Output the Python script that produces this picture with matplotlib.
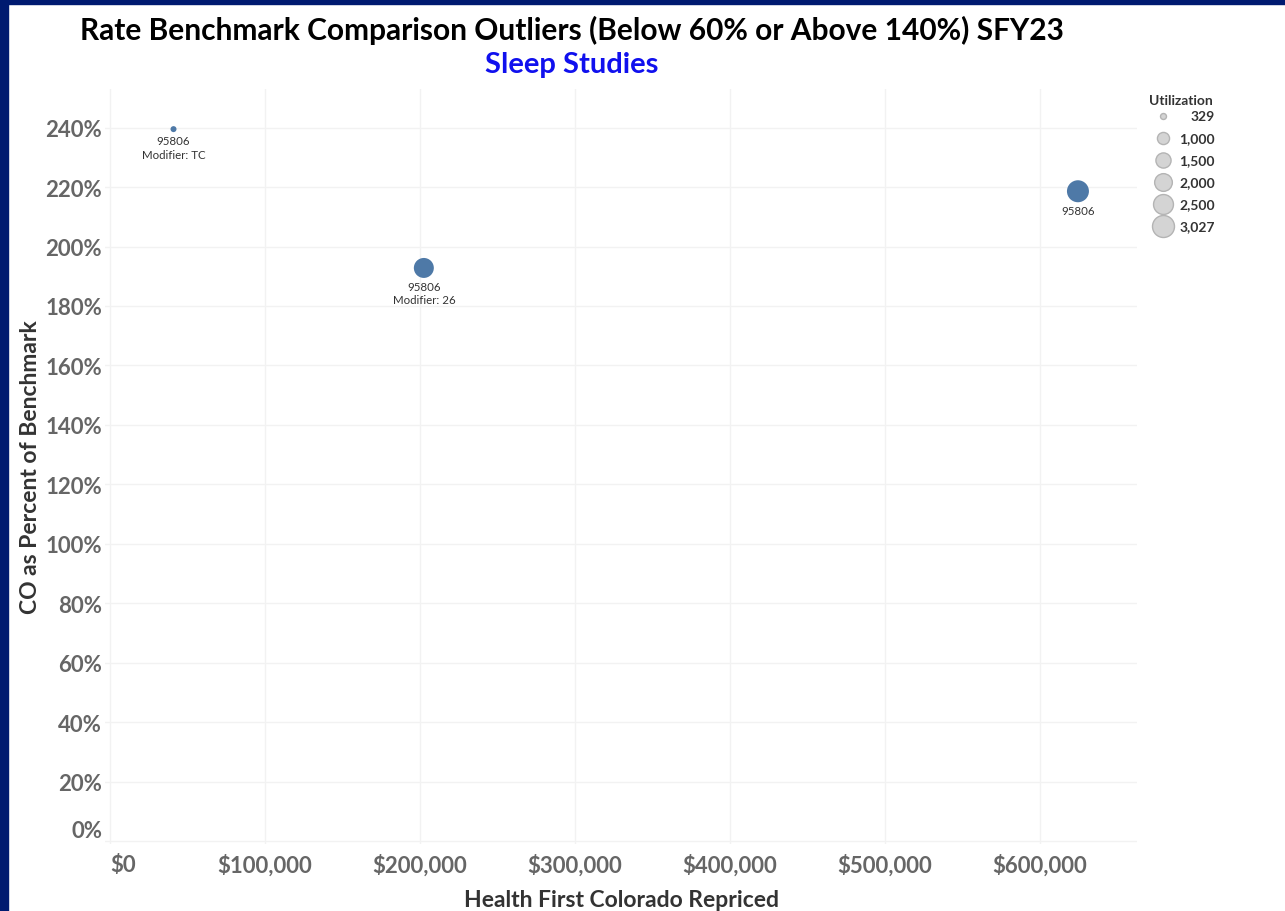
import matplotlib
matplotlib.use("Agg")
import matplotlib.pyplot as plt
from matplotlib.patches import Rectangle
from matplotlib.ticker import FuncFormatter, MultipleLocator

plt.rcParams['font.family'] = ['Lato', 'DejaVu Sans']

# data
codes = ["95806", "95806", "95806"]
modifiers = ["TC", "26", ""]
repriced = [41000, 202500, 624500]
pct_benchmark = [239.5, 192.8, 218.6]
utilization = [329, 2520, 3027]

legend_values = [329, 1000, 1500, 2000, 2500, 3027]
legend_labels = ["329", "1,000", "1,500", "2,000", "2,500", "3,027"]


def size_of(v):
    # area grows linearly with utilization (tableau style), converted to pt^2
    d2 = 36 + 0.166 * (v - 329)
    return 0.518 * d2


W, H = 1285, 912
fig = plt.figure(figsize=(W / 100, H / 100), dpi=100)
fig.patch.set_facecolor("white")

# navy frame on left and top
fig.patches.append(Rectangle((0, 0), 8 / W, 1, transform=fig.transFigure,
                             color="#001a70", zorder=10))
fig.patches.append(Rectangle((0, 1 - 5 / H), 1, 5 / H, transform=fig.transFigure,
                             color="#001a70", zorder=10))

ax = fig.add_axes([105 / W, 1 - 845 / H, (1137 - 105) / W, (845 - 90) / H])
ax.set_xlim(-3200, 662600)
ax.set_ylim(-1, 253)

ax.scatter(repriced, pct_benchmark, s=[size_of(u) for u in utilization],
           color="#4e79a7", edgecolor="none", zorder=3)

for x, y, c, m, u in zip(repriced, pct_benchmark, codes, modifiers, utilization):
    txt = c if not m else c + "\nModifier: " + m
    off = (size_of(u) ** 0.5) / 2 + 2
    ax.annotate(txt, (x, y), xytext=(0, -off), textcoords="offset points",
                ha="center", va="top", fontsize=8.3, color="#333333",
                linespacing=1.3)

ax.xaxis.set_major_locator(MultipleLocator(100000))
ax.yaxis.set_major_locator(MultipleLocator(20))
ax.xaxis.set_major_formatter(FuncFormatter(lambda v, p: "${:,.0f}".format(v)))
ax.yaxis.set_major_formatter(FuncFormatter(lambda v, p: "{:.0f}%".format(v)))
ax.grid(True, color="#f2f2f2", lw=1)
ax.set_axisbelow(True)
for sp in ax.spines.values():
    sp.set_visible(False)
ax.tick_params(length=0, labelsize=16, labelcolor="#666666")
ax.tick_params(axis="y", pad=2)
ax.tick_params(axis="x", pad=7)
fig.canvas.draw()
for lab in ax.get_xticklabels() + ax.get_yticklabels():
    lab.set_fontweight("bold")
# edge labels nudged inward like the original
for lab in ax.get_yticklabels():
    if lab.get_text() == "0%":
        lab.set_va("bottom")
for lab in ax.get_xticklabels():
    if lab.get_text() == "$0":
        lab.set_ha("left")

ax.set_xlabel("Health First Colorado Repriced", fontsize=16.5, fontweight="bold",
              color="#333333", labelpad=9)
ax.set_ylabel("CO as Percent of Benchmark", fontsize=16.5, fontweight="bold",
              color="#333333")
ax.yaxis.set_label_coords(-0.062, 0.5)

fig.text(572 / W, 1 - 30 / H, "Rate Benchmark Comparison Outliers (Below 60% or Above 140%) SFY23",
         ha="center", va="center", fontsize=21.5, fontweight="bold", color="black")
fig.text(572 / W, 1 - 65 / H, "Sleep Studies", ha="center", va="center",
         fontsize=21, fontweight="bold", color="#1010ee")

# size legend
lax = fig.add_axes([1140 / W, 1 - 240 / H, 145 / W, 150 / H])
lax.set_xlim(1140, 1285)
lax.set_ylim(240, 90)
lax.axis("off")
lax.text(1149, 101, "Utilization", fontsize=10, fontweight="bold",
         color="#333333", va="center", ha="left")
for i, (v, lab) in enumerate(zip(legend_values, legend_labels)):
    yy = 117 + i * 22
    lax.scatter([1163], [yy], s=size_of(v), color="#d4d4d4", edgecolor="#b4b4b4",
                linewidth=1, clip_on=False)
    lax.text(1215, yy, lab, fontsize=10, fontweight="bold", color="#333333",
             ha="right", va="center")

fig.savefig("out.png", dpi=100)
